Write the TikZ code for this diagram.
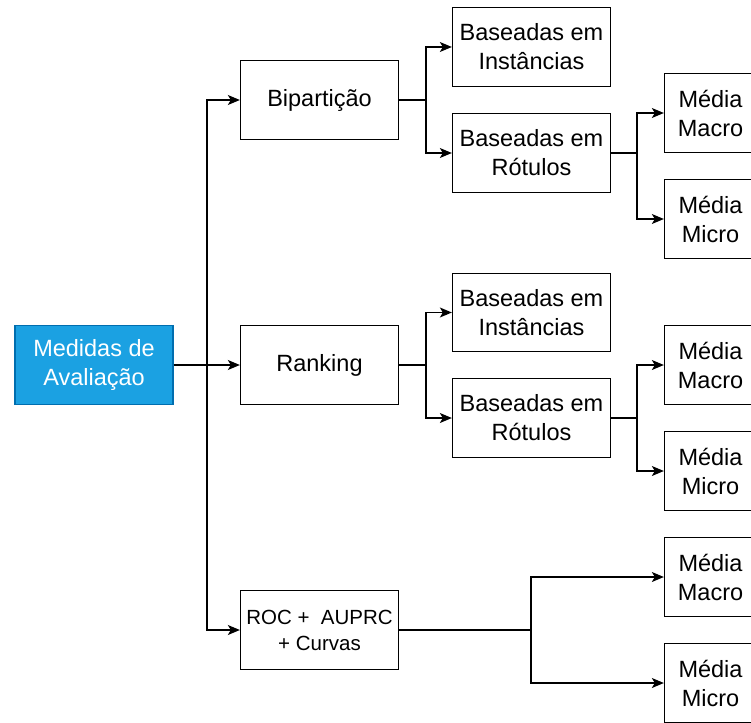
\documentclass[tikz,border=0pt]{standalone}
\usepackage{fontspec}
\setmainfont{Liberation Sans}
\usetikzlibrary{arrows.meta}
\definecolor{medfill}{HTML}{1BA1E2}
\definecolor{medline}{HTML}{006EAF}
\tikzset{
  box/.style={draw=black, line width=1.3pt, fill=white, inner sep=0pt, align=center,
    minimum width=158pt, minimum height=78.5pt, font=\fontsize{23.5}{29}\selectfont},
  roc/.style={box, font=\fontsize{20.5}{26}\selectfont},
  mbox/.style={box, minimum width=92pt},
  rootbox/.style={box, fill=medfill, draw=medline, text=white},
  conn/.style={line width=1.3pt},
  arr/.style={conn, -{Stealth[length=12pt, width=10pt, inset=3pt]}}
}
\begin{document}
\begin{tikzpicture}[x=1pt, y=-1pt]
\useasboundingbox (0,0) rectangle (751,722);
\node[rootbox] (med) at (94,365) {Medidas de\\Avaliação};
\node[box] (bip) at (319.5,100) {Bipartição};
\node[box] (rank) at (319.5,365) {Ranking};
\node[roc] (roc) at (319.5,630) {ROC +\ \ AUPRC\\+ Curvas};
\node[box] (inst1) at (531.5,47) {Baseadas em\\Instâncias};
\node[box] (rot1) at (531.5,153) {Baseadas em\\Rótulos};
\node[box] (inst2) at (531.5,312.5) {Baseadas em\\Instâncias};
\node[box] (rot2) at (531.5,418) {Baseadas em\\Rótulos};
\node[mbox] (mac1) at (710.5,113) {Média\\Macro};
\node[mbox] (mic1) at (710.5,219) {Média\\Micro};
\node[mbox] (mac2) at (710.5,365) {Média\\Macro};
\node[mbox] (mic2) at (710.5,471) {Média\\Micro};
\node[mbox] (mac3) at (710.5,577) {Média\\Macro};
\node[mbox] (mic3) at (710.5,683) {Média\\Micro};
\coordinate (j0) at (207,365);
\coordinate (j1) at (426,100);
\coordinate (j2) at (637,153);
\coordinate (j3) at (426,365);
\coordinate (j4) at (637,418);
\coordinate (j5) at (531,630);
\draw[arr] (med.east) -- (rank.west);
\draw[arr] (j0) |- (bip.west);
\draw[arr] (j0) |- (roc.west);
\draw[conn] (bip.east) -- (j1);
\draw[arr] (j1) |- (inst1.west);
\draw[arr] (j1) |- (rot1.west);
\draw[conn] (rot1.east) -- (j2);
\draw[arr] (j2) |- (mac1.west);
\draw[arr] (j2) |- (mic1.west);
\draw[conn] (rank.east) -- (j3);
\draw[arr] (j3) |- (inst2.west);
\draw[arr] (j3) |- (rot2.west);
\draw[conn] (rot2.east) -- (j4);
\draw[arr] (j4) |- (mac2.west);
\draw[arr] (j4) |- (mic2.west);
\draw[conn] (roc.east) -- (j5);
\draw[arr] (j5) |- (mac3.west);
\draw[arr] (j5) |- (mic3.west);
\end{tikzpicture}
\end{document}
